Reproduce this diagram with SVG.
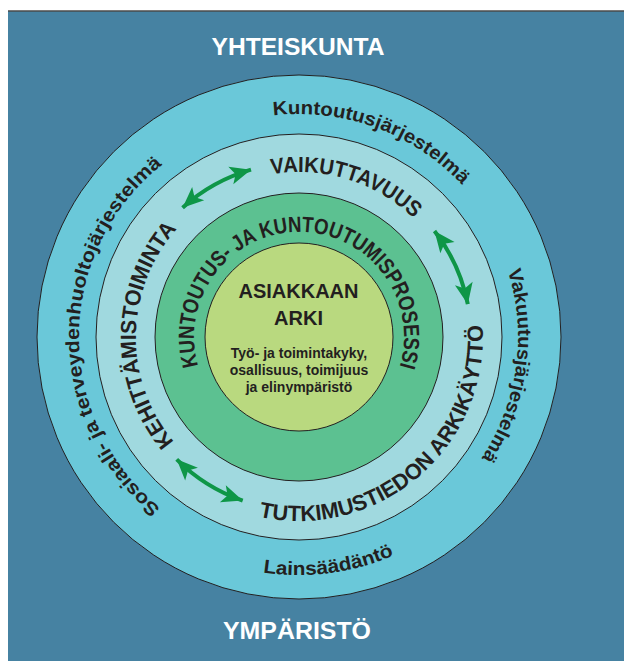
<svg xmlns="http://www.w3.org/2000/svg" xmlns:xlink="http://www.w3.org/1999/xlink" width="624" height="661" viewBox="0 0 624 661">
  <style>
    .ring { stroke: #231F20; stroke-width: 1; }
    .lab { font-family: "Liberation Sans", "Open Sans", sans-serif; font-weight: bold; fill: #231F20; }
    .cap { font-family: "Liberation Sans", "Open Sans", sans-serif; font-weight: bold; fill: #231F20; }
    .ctr { font-family: "Liberation Sans", "Open Sans", sans-serif; font-weight: bold; fill: #231F20; text-anchor: middle; }
    .white { font-family: "Liberation Sans", "Open Sans", sans-serif; font-weight: bold; fill: #FFFFFF; text-anchor: middle; }
    .arrow { fill: none; stroke: #0E9647; stroke-width: 4; marker-start: url(#head); marker-end: url(#head); }
  </style>
  <defs>
    <marker id="head" markerUnits="userSpaceOnUse" viewBox="-1 -10 24 20" refX="21" refY="0" markerWidth="24" markerHeight="20" orient="auto-start-reverse">
      <path d="M21,0 L0,-9 L5,0 L0,9 Z" fill="#0E9647"/>
    </marker>
    <path id="p-kj" d="M273.4,115.5 A223,223 0 0 1 462.1,184.9"/>
    <path id="p-vj" d="M507.8,270.8 A219,219 0 0 1 481.4,458.2"/>
    <path id="p-ls" d="M263,572.3 A238,238 0 0 0 393.9,555.3"/>
    <path id="p-st" d="M160.6,508 A220,220 0 0 1 162.1,164.8"/>
    <path id="p-va" d="M271.5,174.3 A165,165 0 0 1 413.6,218.3"/>
    <path id="p-tu" d="M258.9,516.6 A184,184 0 0 0 482.6,325.1"/>
    <path id="p-ke" d="M174.1,441.8 A163,163 0 0 1 176.9,229"/>
    <path id="p-kp" d="M198.1,365.9 A105,105 0 1 1 399.8,366.5"/>
  </defs>

  <rect x="0" y="0" width="624" height="661" fill="#FFFFFF"/>
  <g id="yhteiskunta">
    <rect x="8" y="11" width="616" height="650" fill="#4682A2"/>
    <line x1="8" y1="11" x2="624" y2="11" stroke="#4a4a4a" stroke-width="1.5"/>
    <text class="white" x="298" y="55" font-size="24" textLength="173" lengthAdjust="spacingAndGlyphs">YHTEISKUNTA</text>
    <text class="white" x="297" y="639" font-size="24" textLength="148" lengthAdjust="spacingAndGlyphs">YMPÄRISTÖ</text>
  </g>

  <g id="jarjestelmat">
    <circle class="ring" cx="299" cy="337" r="262" fill="#6AC8D9"/>
    <text class="lab" font-size="19"><textPath xlink:href="#p-kj" href="#p-kj" textLength="208.6" lengthAdjust="spacingAndGlyphs">Kuntoutusjärjestelmä</textPath></text>
    <text class="lab" font-size="19"><textPath xlink:href="#p-vj" href="#p-vj" textLength="195.7" lengthAdjust="spacingAndGlyphs">Vakuutusjärjestelmä</textPath></text>
    <text class="lab" font-size="19"><textPath xlink:href="#p-ls" href="#p-ls" textLength="133.8" lengthAdjust="spacingAndGlyphs">Lainsäädäntö</textPath></text>
    <text class="lab" font-size="19"><textPath xlink:href="#p-st" href="#p-st" textLength="393.6" lengthAdjust="spacingAndGlyphs">Sosiaali- ja terveydenhuoltojärjestelmä</textPath></text>
  </g>

  <g id="toiminta">
    <circle class="ring" cx="299" cy="337" r="203" fill="#A0D9DF"/>
    <text class="cap" font-size="22"><textPath xlink:href="#p-va" href="#p-va" textLength="154.4" lengthAdjust="spacingAndGlyphs">VAIKUTTAVUUS</textPath></text>
    <text class="cap" font-size="22"><textPath xlink:href="#p-tu" href="#p-tu" textLength="341.4" lengthAdjust="spacingAndGlyphs">TUTKIMUSTIEDON ARKIKÄYTTÖ</textPath></text>
    <text class="cap" font-size="22"><textPath xlink:href="#p-ke" href="#p-ke" textLength="231.9" lengthAdjust="spacingAndGlyphs">KEHITTÄMISTOIMINTA</textPath></text>
  </g>

  <g id="prosessi">
    <circle class="ring" cx="299" cy="337" r="144" fill="#5CC191"/>
    <text class="cap" font-size="22"><textPath xlink:href="#p-kp" href="#p-kp" textLength="389.1" lengthAdjust="spacingAndGlyphs">KUNTOUTUS- JA KUNTOUTUMISPROSESSI</textPath></text>
  </g>

  <g id="asiakkaan-arki">
    <circle class="ring" cx="299" cy="337" r="94" fill="#B9D97F"/>
    <text class="ctr" x="298.5" y="297.5" font-size="20">ASIAKKAAN</text>
    <text class="ctr" x="298.5" y="325" font-size="20">ARKI</text>
    <text class="ctr" x="299" y="358" font-size="14">Työ- ja toimintakyky,</text>
    <text class="ctr" x="299" y="375" font-size="14">osallisuus, toimijuus</text>
    <text class="ctr" x="299" y="392" font-size="14">ja elinympäristö</text>
  </g>

  <g id="connectors">
    <path class="arrow" d="M182.6,207.7 A174,174 0 0 1 251,169.7"/>
    <path class="arrow" d="M434.5,231.1 A172,172 0 0 1 467.8,304.2"/>
    <path class="arrow" d="M242.7,500.6 A173,173 0 0 1 176.7,459.3"/>
  </g>
</svg>
